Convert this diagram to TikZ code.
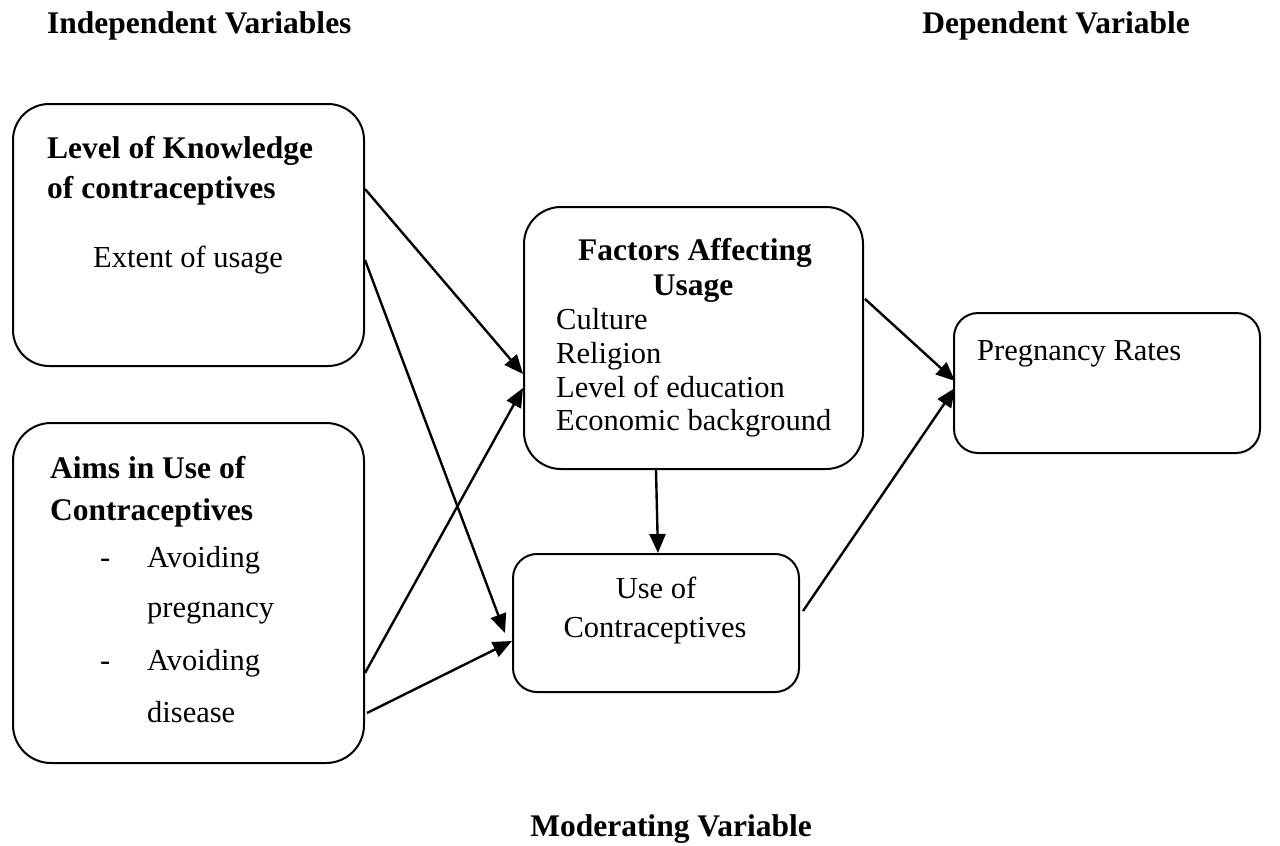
\documentclass[tikz,border=0pt]{standalone}
\usepackage{fontspec}
\setmainfont{Liberation Serif}
\usetikzlibrary{arrows.meta}
\begin{document}
\begin{tikzpicture}[x=1pt,y=-1pt,
  box/.style={draw=black, line width=2pt, anchor=north west, inner sep=0pt},
  txt/.style={inner sep=0pt, font=\fontsize{30.5}{36}\selectfont},
  btxt/.style={inner sep=0pt, font=\fontsize{31.5}{36}\selectfont\bfseries},
  arr/.style={line width=2.4pt, -{Triangle[length=19pt,width=16pt]}}]
\useasboundingbox (0,0) rectangle (1280,846);
\fill[white] (0,0) rectangle (1280,846);
% headers
\node[btxt, anchor=base west] (hind) at (47,33) {Independent Variables};
\node[btxt, anchor=base east] (hdep) at (1190,33) {Dependent Variable};
\node[btxt, anchor=base] (hmod) at (671,836) {Moderating Variable};
% boxes
\node[box, rounded corners=36pt, minimum width=351pt, minimum height=262pt] (k) at (12,103) {};
\node[box, rounded corners=38pt, minimum width=351pt, minimum height=340pt] (a) at (12,422) {};
\node[box, rounded corners=37pt, minimum width=339pt, minimum height=262pt] (f) at (523,206) {};
\node[box, rounded corners=24pt, minimum width=286pt, minimum height=138pt] (u) at (512,553) {};
\node[box, rounded corners=24pt, minimum width=306pt, minimum height=140pt] (p) at (953,312) {};
% box 1 text
\node[btxt, anchor=base west] (k1) at (47,158) {Level of Knowledge};
\node[btxt, anchor=base west] (k2) at (47,198) {of contraceptives};
\node[txt, anchor=base west] (k3) at (93,267) {Extent of usage};
% box 2 text
\node[btxt, anchor=base west] (a1) at (50,478) {Aims in Use of};
\node[btxt, anchor=base west] (a2) at (50,520) {Contraceptives};
\node[txt, anchor=base west] (a3d) at (100,567) {-};
\node[txt, anchor=base west] (a3) at (147,567) {Avoiding};
\node[txt, anchor=base west] (a4) at (147,617) {pregnancy};
\node[txt, anchor=base west] (a5d) at (100,670) {-};
\node[txt, anchor=base west] (a5) at (147,670) {Avoiding};
\node[txt, anchor=base west] (a6) at (147,722) {disease};
% box 3 text
\node[btxt, anchor=base] (f1) at (695,260) {Factors Affecting};
\node[btxt, anchor=base] (f2) at (693,295) {Usage};
\node[txt, anchor=base west] (f3) at (556,329) {Culture};
\node[txt, anchor=base west] (f4) at (556,363) {Religion};
\node[txt, anchor=base west] (f5) at (556,397) {Level of education};
\node[txt, anchor=base west] (f6) at (556,430) {Economic background};
% box 4 text
\node[txt, anchor=base] (u1) at (656,598) {Use of};
\node[txt, anchor=base] (u2) at (655,637) {Contraceptives};
% box 5 text
\node[txt, anchor=base west] (p1) at (977,360) {Pregnancy Rates};
% arrows
\draw[arr] ([yshift=46pt]k.east) -- ([yshift=-36pt]f.west);
\draw[arr] ([yshift=-25pt]k.east) -- ([xshift=-7pt,yshift=-10pt]u.west);
\draw[arr] ([yshift=-80pt]a.east) -- ([yshift=-50pt]f.west);
\draw[arr] ([xshift=2pt,yshift=-120pt]a.east) -- ([yshift=-18pt]u.west);
\draw[arr] ([xshift=-37.5pt]f.south) -- ([xshift=2pt]u.north);
\draw[arr] ([xshift=1pt,yshift=39pt]f.east) -- ([xshift=2pt,yshift=2pt]p.west);
\draw[arr] ([xshift=3pt,yshift=12pt]u.east) -- ([xshift=2pt,yshift=-5pt]p.west);
\end{tikzpicture}
\end{document}
